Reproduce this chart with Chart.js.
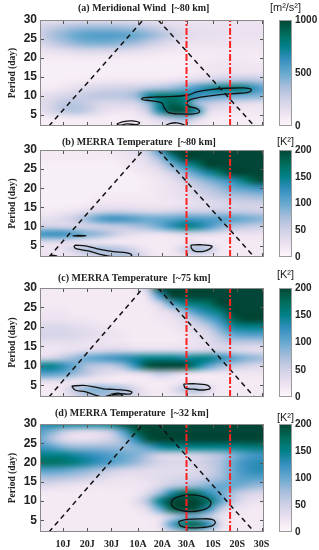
<!DOCTYPE html>
<html lang="en">
<head>
<meta charset="UTF-8">
<title>Wavelet power spectra</title>
<script src="https://cdn.jsdelivr.net/npm/chart.js@4.4.1/dist/chart.umd.min.js"></script>
<style>
    body { margin: 0; background: #fff; }
    #wrap { position: relative; width: 319px; height: 550px; overflow: hidden; }
    #wrap canvas { position: absolute; left: 0; }
</style>
</head>
<body>
<div id="wrap">
    <canvas id="pa" width="319" height="137" style="top:0px"></canvas>
    <canvas id="pb" width="319" height="145" style="top:128px"></canvas>
    <canvas id="pc" width="319" height="148" style="top:262px"></canvas>
    <canvas id="pd" width="319" height="150" style="top:400px"></canvas>
</div>
<script>
// ---- data ----
// grid columns: days counted from 30 June; grid rows: period (day), top row first
const days = [0, 5, 10, 15, 20, 25, 30, 35, 40, 45, 50, 55, 60, 65, 70, 75, 80, 85, 90, 95];
const periods = [30, 28, 26, 24, 22, 20, 18, 16, 14, 12, 10, 8, 6, 4, 2];

const xTickValues = [10, 20, 30, 41, 51, 61, 72, 82, 92];
const xTickLabels = ['10J', '20J', '30J', '10A', '20A', '30A', '10S', '20S', '30S'];
const yTickValues = [5, 10, 15, 20, 25, 30];
const cbTicksWind = [0, 500, 1000];
const cbTicksTemp = [0, 50, 100, 150, 200];

const titles = [
    '(a) Meridional Wind  [~80 km]',
    '(b) MERRA Temperature  [~80 km]',
    '(c) MERRA Temperature  [~75 km]',
    '(d) MERRA Temperature  [~32 km]'
];
const units = ['[m\u00b2/s\u00b2]', '[K\u00b2]', '[K\u00b2]', '[K\u00b2]'];

// cone of influence and the two marked dates (30 Aug, 17 Sep)
const coneLeft = [[4.2, 2], [43.1, 30]];
const coneRight = [[49.3, 30], [89.0, 2]];
const eventDays = [61, 79];

// (a) meridional wind power, m^2/s^2
const powerA = [
    [140, 140, 150, 160, 160, 160, 160, 160, 150, 140, 130, 120, 120, 120, 120, 120, 120, 120, 120, 120],
    [220, 280, 330, 380, 400, 400, 400, 380, 350, 300, 250, 200, 160, 140, 140, 130, 130, 130, 130, 130],
    [250, 350, 420, 500, 550, 560, 560, 540, 500, 430, 350, 270, 200, 160, 150, 140, 130, 130, 130, 130],
    [200, 280, 350, 420, 460, 470, 460, 420, 380, 300, 230, 170, 140, 120, 120, 120, 120, 110, 110, 110],
    [120, 150, 180, 210, 230, 230, 220, 200, 180, 150, 120, 100,  90,  90,  90,  90,  90,  90,  90,  90],
    [ 70,  80,  80,  90,  90,  90,  90,  80,  80,  70,  60,  60,  60,  70,  80,  90,  90,  90,  80,  80],
    [ 50,  50,  50,  50,  50,  50,  50,  50,  50,  50,  50,  50,  60,  80, 100, 110, 110, 110, 100, 100],
    [ 50,  50,  50,  50,  50,  50,  50,  50,  50,  50,  50,  50,  60,  80, 100, 120, 130, 130, 130, 130],
    [ 50,  50,  60,  70,  80,  90, 100, 100, 100, 100, 110, 130, 170, 220, 260, 300, 330, 350, 330, 300],
    [ 70,  80, 110, 150, 190, 220, 240, 250, 270, 310, 350, 400, 480, 600, 700, 760, 790, 760, 600, 500],
    [140, 170, 210, 250, 290, 310, 310, 320, 400, 700, 800, 800, 760, 650, 560, 520, 500, 480, 450, 420],
    [160, 220, 300, 320, 280, 220, 200, 210, 230, 400, 750, 900, 800, 400, 300, 250, 200, 170, 150, 140],
    [140, 220, 300, 330, 280, 180, 130, 110, 130, 280, 700, 950, 950, 700, 200, 130, 100,  90,  90,  90],
    [ 60,  70,  80,  80,  80,  70,  60,  60,  70, 120, 250, 350, 420, 250,  90,  60,  60,  60,  60,  60],
    [ 60,  60,  60,  60,  60,  70,  80, 100, 100,  80,  90, 120, 100,  70,  60,  60,  60,  60,  60,  60]
];

// (b) temperature power at ~80 km, K^2
const powerB = [
    [ 15,  15,  15,  15,  15,  15,  20,  25,  35,  60, 120, 210, 230, 240, 240, 240, 240, 240, 240, 240],
    [ 15,  15,  15,  15,  15,  15,  15,  20,  25,  40,  80, 140, 200, 230, 240, 240, 240, 240, 240, 240],
    [ 10,  10,  10,  10,  10,  10,  10,  15,  20,  30,  50,  90, 130, 160, 200, 230, 240, 240, 240, 240],
    [ 10,  10,  10,  10,  10,  10,  10,  10,  15,  20,  30,  50,  80, 110, 140, 170, 200, 220, 230, 230],
    [ 10,  10,  10,  10,  10,  10,  10,  10,  10,  15,  20,  30,  50,  70,  90, 110, 130, 160, 190, 200],
    [ 10,  10,  10,  10,  10,  10,  10,  10,  10,  15,  20,  25,  35,  50,  65,  80, 100, 110, 120, 120],
    [ 10,  10,  10,  10,  10,  15,  15,  15,  15,  15,  20,  25,  30,  40,  50,  60,  70,  75,  80,  80],
    [ 10,  10,  10,  10,  15,  20,  20,  20,  20,  20,  20,  20,  25,  30,  35,  40,  45,  50,  50,  50],
    [ 15,  15,  20,  25,  35,  45,  50,  50,  45,  40,  40,  45,  50,  50,  50,  55,  55,  55,  50,  50],
    [ 30,  30,  40,  55,  80, 110, 125, 120, 110, 100, 100, 105, 115, 115, 110, 110, 108, 100,  90,  85],
    [ 50,  50,  45,  45,  45,  50,  55,  60,  70,  80, 100, 130, 150, 145, 120,  90,  70,  60,  55,  50],
    [120, 125, 125, 110,  90,  80,  60,  40,  30,  25,  25,  30,  40,  40,  35,  30,  25,  25,  25,  25],
    [ 40,  40,  35,  30,  25,  20,  15,  15,  15,  15,  15,  15,  20,  20,  15,  15,  15,  15,  15,  15],
    [ 20,  20,  30,  50,  70,  75,  70,  60,  40,  20,  15,  20,  50,  75,  60,  20,  15,  15,  15,  15],
    [ 25,  25,  20,  25,  35,  50,  65,  70,  60,  30,  15,  15,  20,  20,  15,  15,  15,  15,  15,  15]
];

// (c) temperature power at ~75 km, K^2
const powerC = [
    [ 15,  15,  15,  15,  15,  15,  15,  15,  20,  60, 220, 240, 240, 240, 240, 240, 240, 240, 240, 240],
    [ 15,  15,  15,  15,  15,  15,  15,  15,  15,  30, 120, 220, 230, 220, 220, 230, 240, 240, 240, 240],
    [ 15,  15,  15,  15,  15,  15,  15,  15,  15,  20,  50, 110, 150, 160, 170, 200, 240, 240, 240, 240],
    [ 20,  20,  20,  15,  15,  15,  15,  15,  15,  15,  25,  40,  80, 120, 140, 160, 210, 240, 240, 240],
    [ 25,  25,  25,  20,  20,  15,  15,  15,  15,  15,  20,  25,  40,  70, 100, 130, 180, 220, 230, 230],
    [ 40,  40,  40,  35,  30,  25,  20,  15,  15,  15,  15,  20,  30,  40,  60, 100, 140, 150, 150, 150],
    [ 45,  45,  45,  40,  35,  30,  25,  20,  15,  15,  15,  15,  20,  30,  40,  70, 100, 110, 110, 110],
    [ 30,  30,  30,  30,  25,  25,  20,  20,  15,  15,  15,  15,  20,  25,  35,  50,  60,  60,  60,  60],
    [ 20,  20,  25,  30,  35,  40,  45,  45,  40,  40,  40,  40,  40,  40,  45,  45,  40,  35,  30,  30],
    [ 40,  45,  60,  80, 100, 110, 120, 130, 140, 150, 150, 150, 140, 150, 150, 130, 110,  90,  80,  70],
    [140, 150, 130, 100,  70,  60,  60,  80, 130, 190, 220, 220, 200, 150, 110,  80,  60,  50,  40,  40],
    [110, 110, 100,  80,  60,  40,  30,  25,  30,  40,  60,  50,  30,  25,  20,  20,  20,  20,  20,  20],
    [ 30,  30,  25,  20,  20,  20,  15,  15,  15,  15,  15,  15,  20,  20,  15,  15,  15,  15,  15,  15],
    [ 15,  15,  25,  60,  85,  90,  80,  70,  40,  20,  15,  30,  60,  70,  40,  15,  15,  15,  15,  15],
    [ 15,  15,  20,  40,  60,  70,  70,  60,  40,  20,  15,  15,  20,  20,  15,  15,  15,  15,  15,  15]
];

// (d) temperature power at ~32 km, K^2
const powerD = [
    [130, 140, 140, 140, 140, 140, 150, 190, 230, 240, 240, 240, 240, 240, 240, 240, 240, 240, 240, 240],
    [110,  90,  60,  40,  35,  40,  60, 110, 180, 230, 240, 240, 240, 240, 240, 240, 240, 240, 240, 240],
    [100,  70,  40,  30,  30,  35,  50,  80, 130, 190, 230, 240, 240, 240, 240, 240, 240, 240, 240, 240],
    [120, 110,  90,  80,  80,  80,  80,  80,  90, 110, 140, 150, 150, 150, 150, 150, 150, 155, 160, 160],
    [150, 150, 150, 140, 130, 120, 110, 100,  90,  70,  50,  45,  45,  50,  60,  70,  90, 110, 120, 120],
    [170, 170, 165, 155, 140, 125, 110,  95,  80,  60,  45,  40,  40,  45,  55,  70, 100, 120, 130, 130],
    [110, 110, 105,  95,  85,  70,  55,  45,  40,  35,  35,  35,  35,  40,  50,  70, 100, 120, 130, 130],
    [ 70,  70,  65,  60,  50,  40,  30,  25,  25,  30,  35,  40,  45,  50,  60,  75, 100, 110, 110, 110],
    [ 40,  35,  30,  25,  20,  20,  20,  20,  20,  25,  40,  60,  70,  80,  90, 100, 100,  90,  80,  80],
    [ 15,  15,  15,  15,  15,  15,  15,  15,  20,  40,  80, 140, 180, 170, 130, 100,  70,  50,  40,  40],
    [ 15,  15,  15,  15,  15,  15,  15,  15,  30,  70, 150, 220, 250, 230, 170, 110,  60,  35,  25,  25],
    [ 15,  15,  15,  15,  15,  15,  15,  15,  20,  40, 100, 180, 210, 190, 130,  60,  30,  20,  15,  15],
    [ 15,  15,  15,  15,  15,  15,  15,  15,  15,  20,  30,  60,  90,  90,  60,  30,  15,  15,  15,  15],
    [ 15,  15,  15,  15,  15,  15,  15,  15,  15,  15,  30, 110, 170, 180, 130,  40,  15,  15,  15,  15],
    [ 15,  15,  15,  15,  15,  15,  15,  15,  15,  15,  20,  50,  80,  80,  50,  20,  15,  15,  15,  15]
];

// significance contours, [day, period]
const contoursA = [
    [[42.6, 9.42], [46.0, 9.6], [52.9, 9.77], [61.2, 10.12], [65.3, 11.0], [70.8, 11.6], [77.7, 11.97], [84.6, 12.06],
     [87.7, 11.7], [87.1, 11.0], [83.3, 10.65], [75.0, 10.3], [66.7, 9.6], [62.3, 8.9], [61.2, 8.1], [61.9, 7.2],
     [65.3, 6.6], [66.4, 5.7], [63.9, 5.2], [58.4, 5.2], [53.6, 5.55], [51.8, 6.8], [50.8, 8.1], [46.0, 8.7], [42.6, 9.0]],
    [[32.2, 2.56], [35.0, 3.17], [38.4, 3.35], [41.6, 2.9], [40.5, 2.38], [36.4, 2.56], [33.3, 2.2]],
    [[51.5, 1.8], [54.0, 2.6], [57.0, 2.85], [60.0, 2.3], [60.5, 1.6]]
];
const contoursB = [
    [[15.0, 5.13], [19.8, 4.87], [25.3, 4.0], [30.8, 3.4], [36.4, 3.1], [38.4, 2.5], [37.0, 2.0], [30.8, 2.07],
     [25.3, 2.7], [20.5, 3.6], [15.7, 4.1], [14.6, 4.7]],
    [[62.8, 5.13], [66.7, 5.2], [71.5, 4.87], [70.8, 4.2], [68.1, 3.5], [64.6, 3.5], [63.1, 4.2]],
    [[14.0, 7.55], [16.5, 7.63], [19.5, 7.55], [16.5, 7.45]],
    [[4.6, 2.0], [5.5, 2.4], [7.3, 2.3], [7.5, 2.0]]
];
const contoursC = [
    [[13.6, 4.8], [18.4, 5.0], [23.3, 4.55], [26.7, 4.1], [30.8, 3.95], [35.7, 3.7], [38.4, 3.3], [37.7, 2.75],
     [33.6, 2.83], [29.5, 2.5], [26.7, 2.05], [23.3, 2.5], [19.1, 3.35], [15.0, 3.8]],
    [[59.8, 5.3], [63.9, 5.4], [69.5, 5.06], [70.8, 4.2], [68.1, 3.8], [63.9, 4.0], [60.5, 4.3]],
    [[29.0, 2.2], [31.0, 2.85], [33.5, 2.9], [34.5, 2.3]]
];
const contoursD = [
    [[54.5, 9.45], [55.6, 10.55], [58.6, 11.3], [62.8, 11.6], [67.0, 11.3], [70.0, 10.55], [71.1, 9.45],
     [70.0, 8.35], [67.0, 7.6], [62.8, 7.3], [58.6, 7.6], [55.6, 8.35]],
    [[57.7, 4.7], [60.5, 5.2], [66.7, 5.4], [71.5, 5.3], [72.9, 4.55], [71.5, 3.6], [66.7, 3.15], [61.2, 3.15], [58.4, 3.65]]
];

// ---- colour map (PuBuGn) ----
const PUBUGN = ['#fff7fb', '#ece2f0', '#d0d1e6', '#a6bddb', '#67a9cf', '#3690c0', '#02818a', '#016c59', '#014636'];
const pubugnRgb = PUBUGN.map(h => [1, 3, 5].map(k => parseInt(h.substr(k, 2), 16)));

function colourAt(t) {
    t = Math.max(0, Math.min(1, t));
    const p = t * (pubugnRgb.length - 1);
    const i = Math.min(Math.floor(p), pubugnRgb.length - 2);
    const f = p - i;
    return pubugnRgb[i].map((c, k) => Math.round(c + (pubugnRgb[i + 1][k] - c) * f));
}

const SANS = '"Liberation Sans", Arial, sans-serif';
const SERIF = '"Liberation Serif", "Times New Roman", serif';

// heat map, frame with inward ticks, colour bar and captions
const spectrumPlugin = {
    id: 'spectrum',
    beforeDatasetsDraw(chart) {
        const o = chart.options.plugins.spectrum;
        const { ctx, chartArea: a, scales: { x, y } } = chart;
        const nx = days.length, ny = periods.length;
        const img = document.createElement('canvas');
        img.width = nx;
        img.height = ny;
        const ictx = img.getContext('2d');
        const px = ictx.createImageData(nx, ny);
        for (let j = 0; j < ny; j++) {
            for (let i = 0; i < nx; i++) {
                const c = colourAt(o.grid[j][i] / o.max);
                const k = (j * nx + i) * 4;
                px.data[k] = c[0]; px.data[k + 1] = c[1]; px.data[k + 2] = c[2]; px.data[k + 3] = 255;
            }
        }
        ictx.putImageData(px, 0, 0);
        const dx = days[1] - days[0], dy = periods[0] - periods[1];
        const x0 = x.getPixelForValue(days[0] - dx / 2);
        const x1 = x.getPixelForValue(days[nx - 1] + dx / 2);
        const y0 = y.getPixelForValue(periods[0] + dy / 2);
        const y1 = y.getPixelForValue(periods[ny - 1] - dy / 2);
        ctx.save();
        ctx.beginPath();
        ctx.rect(a.left, a.top, a.width, a.height);
        ctx.clip();
        ctx.imageSmoothingEnabled = true;
        ctx.imageSmoothingQuality = 'high';
        ctx.drawImage(img, x0, y0, x1 - x0, y1 - y0);
        ctx.restore();
    },
    afterDatasetsDraw(chart) {
        const { ctx, chartArea: a, scales: { x, y } } = chart;
        ctx.save();
        ctx.strokeStyle = '#555';
        ctx.lineWidth = 1;
        ctx.beginPath();
        x.ticks.forEach(t => {
            const p = Math.round(x.getPixelForValue(t.value)) + 0.5;
            ctx.moveTo(p, a.bottom); ctx.lineTo(p, a.bottom - 4);
            ctx.moveTo(p, a.top); ctx.lineTo(p, a.top + 4);
        });
        y.ticks.forEach(t => {
            const p = Math.round(y.getPixelForValue(t.value)) + 0.5;
            ctx.moveTo(a.left, p); ctx.lineTo(a.left + 4, p);
            ctx.moveTo(a.right, p); ctx.lineTo(a.right - 4, p);
        });
        ctx.stroke();
        ctx.strokeStyle = '#8a8a8a';
        ctx.strokeRect(a.left + 0.5, a.top + 0.5, a.width - 1, a.height - 1);
        ctx.restore();
    },
    afterDraw(chart) {
        const o = chart.options.plugins.spectrum;
        const { ctx, chartArea: a } = chart;
        const cb = chart.scales.cb;
        const top = cb.getPixelForValue(cb.max), bottom = cb.getPixelForValue(cb.min);
        const left = a.right + 15, w = 13;
        ctx.save();
        const g = ctx.createLinearGradient(0, bottom, 0, top);
        PUBUGN.forEach((c, i) => g.addColorStop(i / (PUBUGN.length - 1), c));
        ctx.fillStyle = g;
        ctx.fillRect(left, top, w, bottom - top);
        ctx.strokeStyle = '#9a9a9a';
        ctx.lineWidth = 1;
        ctx.strokeRect(left + 0.5, top + 0.5, w - 1, bottom - top - 1);

        ctx.fillStyle = '#222';
        ctx.textBaseline = 'middle';
        ctx.textAlign = 'left';
        ctx.font = 'bold 10px ' + SERIF;
        ctx.fillText(o.title, o.titleX, a.top + o.titleDy);
        ctx.textAlign = 'center';
        ctx.font = '11px ' + SANS;
        ctx.fillText(o.unit, left + w / 2, a.top + o.unitDy);
        ctx.restore();
    }
};

function toPoints(list) {
    return list.map(p => ({ x: p[0], y: p[1] }));
}

function makePanel(p) {
    const datasets = [];
    eventDays.forEach(d => datasets.push({
        data: [{ x: d, y: 2 }, { x: d, y: 30 }],
        borderColor: '#ff2020', borderWidth: 2, borderDash: [7, 2, 2, 2]
    }));
    [coneLeft, coneRight].forEach(c => datasets.push({
        data: toPoints(c), borderColor: '#111', borderWidth: 1.5, borderDash: [5, 4]
    }));
    p.contours.forEach(c => datasets.push({
        data: toPoints(c.concat([c[0]])), borderColor: '#111', borderWidth: 1.3, tension: 0.35
    }));
    datasets.forEach(d => { d.showLine = true; d.pointRadius = 0; d.fill = false; });

    new Chart(document.getElementById(p.id), {
        type: 'scatter',
        data: { datasets: datasets },
        options: {
            responsive: false,
            animation: false,
            events: [],
            layout: { padding: { top: p.padTop, left: 0, right: 0, bottom: 0 }, autoPadding: false },
            plugins: {
                legend: { display: false },
                tooltip: { enabled: false },
                spectrum: {
                    grid: p.grid, max: p.max, title: p.title, unit: p.unit,
                    titleX: p.titleX, titleDy: p.titleDy, unitDy: p.unitDy
                }
            },
            scales: {
                x: {
                    type: 'linear', position: 'bottom', min: 0.5, max: 93,
                    afterBuildTicks: s => { s.ticks = xTickValues.map(v => ({ value: v })); },
                    afterFit: s => { s.height = p.xHeight; },
                    grid: { display: false, drawTicks: false },
                    border: { display: false },
                    ticks: {
                        display: p.showX, autoSkip: false, maxRotation: 0, padding: 6,
                        color: '#222', font: { family: SERIF, size: 10, weight: 'bold' },
                        callback: (v, i) => xTickLabels[i]
                    }
                },
                y: {
                    type: 'linear', position: 'left', min: 2, max: 30,
                    afterBuildTicks: s => { s.ticks = yTickValues.map(v => ({ value: v })); },
                    afterFit: s => { s.width = 40; },
                    grid: { display: false, drawTicks: false },
                    border: { display: false },
                    ticks: {
                        autoSkip: false, padding: 3, color: '#222',
                        font: { family: SANS, size: 12, weight: 'bold' },
                        callback: v => String(v)
                    },
                    title: {
                        display: true, text: 'Period (day)', color: '#222',
                        padding: { top: 7, bottom: 0 },
                        font: { family: SERIF, size: 9.5, weight: 'bold' }
                    }
                },
                cb: {
                    type: 'linear', position: 'right', min: 0, max: p.max,
                    afterBuildTicks: s => { s.ticks = p.cbTicks.map(v => ({ value: v })); },
                    afterFit: s => { s.width = 55; },
                    grid: { display: false, drawTicks: true, tickLength: 28 },
                    border: { display: false },
                    ticks: {
                        autoSkip: false, padding: 3, color: '#222',
                        font: { family: SANS, size: 10, weight: 'bold' },
                        callback: v => String(v)
                    }
                }
            }
        },
        plugins: [spectrumPlugin]
    });
}

const panels = [
    { id: 'pa', grid: powerA, max: 1000, cbTicks: cbTicksWind, contours: contoursA, title: titles[0], unit: units[0],
      padTop: 20, xHeight: 11, showX: false, titleX: 78, titleDy: -11.7, unitDy: -12 },
    { id: 'pb', grid: powerB, max: 200, cbTicks: cbTicksTemp, contours: contoursB, title: titles[1], unit: units[1],
      padTop: 22, xHeight: 16, showX: false, titleX: 62, titleDy: -7.3, unitDy: -8.3 },
    { id: 'pc', grid: powerC, max: 200, cbTicks: cbTicksTemp, contours: contoursC, title: titles[2], unit: units[2],
      padTop: 26, xHeight: 13, showX: false, titleX: 58, titleDy: -9.7, unitDy: -13 },
    { id: 'pd', grid: powerD, max: 200, cbTicks: cbTicksTemp, contours: contoursD, title: titles[3], unit: units[3],
      padTop: 24, xHeight: 18, showX: true, titleX: 55, titleDy: -10.7, unitDy: -6.5 }
];

panels.forEach(makePanel);
</script>
</body>
</html>
